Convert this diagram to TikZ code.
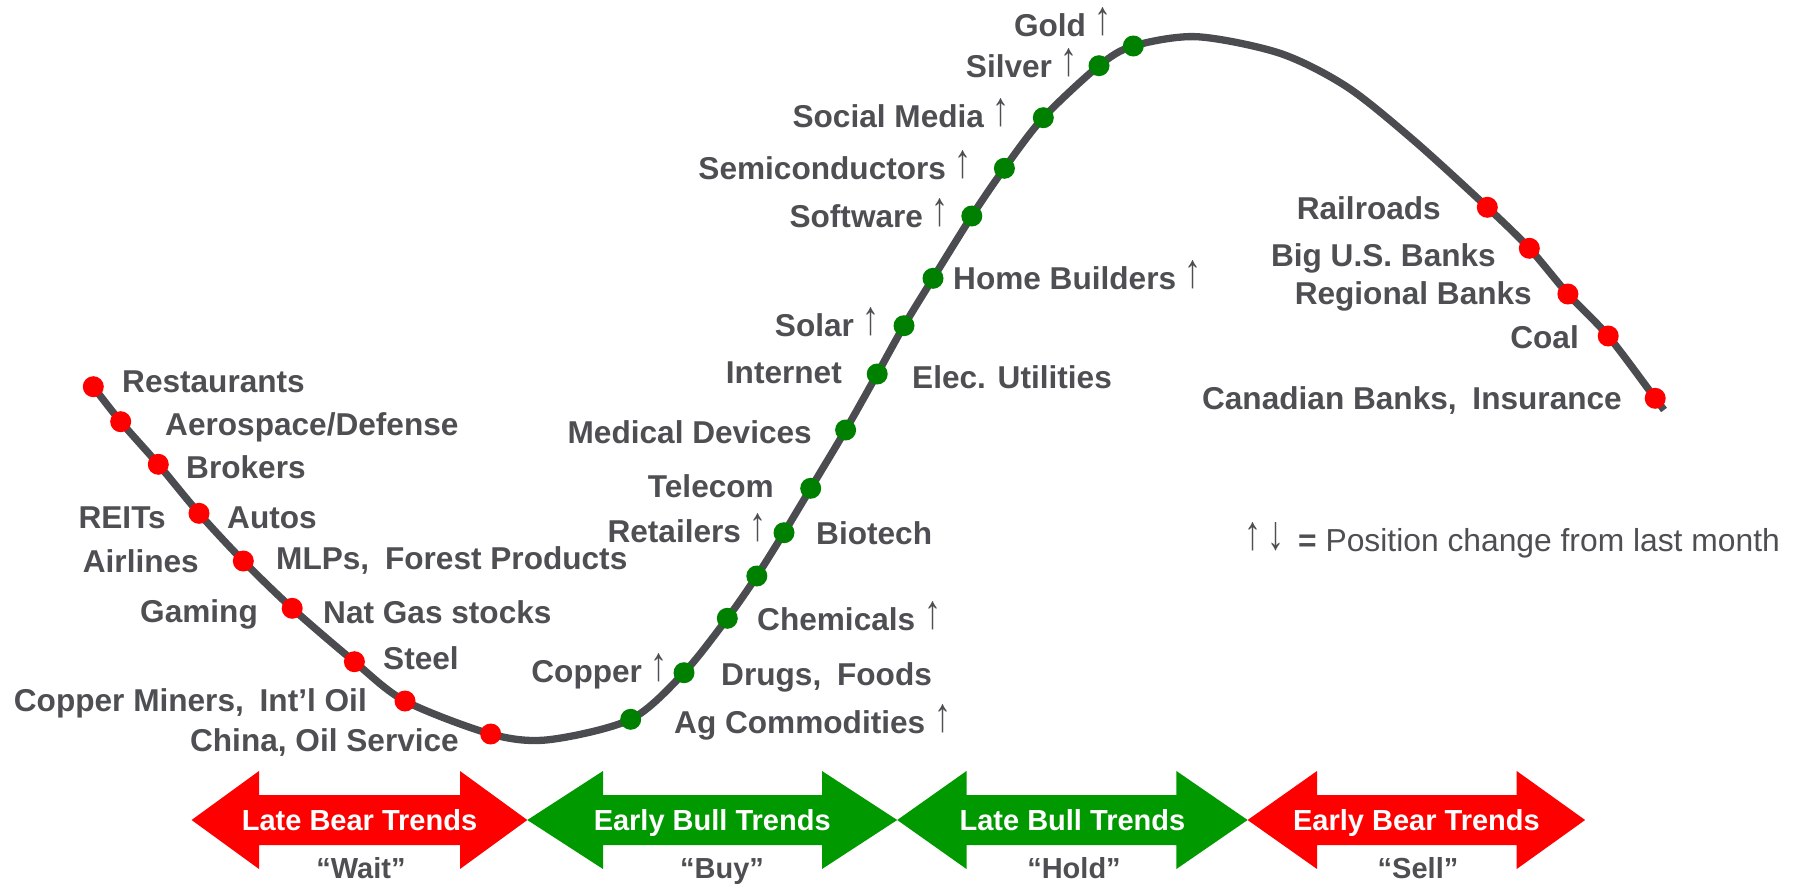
\documentclass[tikz,border=0pt]{standalone}
\usepackage{fontspec}
\usepackage{graphicx}
\setmainfont{Liberation Sans}
\definecolor{txtgray}{RGB}{77,79,83}
\definecolor{curvegray}{RGB}{74,76,80}
\definecolor{dotgreen}{RGB}{0,128,0}
\definecolor{arrgreen}{RGB}{0,153,0}
\definecolor{arrred}{RGB}{255,0,0}
\newcommand\upar{\raisebox{1.5pt}{\resizebox{17pt}{27pt}{\mdseries ↑}}}
\newcommand\downar{\raisebox{1.5pt}{\resizebox{17pt}{27pt}{\mdseries ↓}}}
\newcommand\bandarrow[5]{\fill[#5] (#1,820) -- (#2,771) -- (#2,795) -- (#3,795) -- (#3,771) -- (#4,820) -- (#3,869) -- (#3,845) -- (#2,845) -- (#2,869) -- cycle;}
\tikzset{
  lbl/.style={font=\fontsize{31.6}{31.6}\selectfont\bfseries, text=txtgray, inner sep=0pt, text height=22.5pt, text depth=0pt},
  lgd/.style={font=\fontsize{31.8}{31.8}\selectfont, text=txtgray, inner sep=0pt, text height=22.5pt, text depth=0pt},
  rdot/.style={circle, fill=red, inner sep=0pt, minimum size=21pt},
  gdot/.style={circle, fill=dotgreen, inner sep=0pt, minimum size=21pt},
  curve/.style={draw=curvegray, line width=7.3pt},
  atext/.style={font=\fontsize{29}{29}\selectfont\bfseries, text=white, inner sep=0pt, text height=21pt, text depth=0pt},
  qtext/.style={font=\fontsize{29}{29}\selectfont\bfseries, text=txtgray, inner sep=0pt, text height=21pt, text depth=0pt},
}
\begin{document}
\begin{tikzpicture}[x=1pt,y=-1pt]
\useasboundingbox (0,0) rectangle (1802,886);
% curve
\draw[curve] plot[smooth, tension=0.5] coordinates {
 (93.3,386.7) (120.7,421.7) (158.3,464.3) (199,513.3) (243.3,561) (292.2,608.3)
 (354.4,661.7) (405,701) (490.7,734) (548,739.8) (630.7,719.3) (684,672.7)
 (727.3,618.3) (756.8,576) (784,532.7) (810.7,488.3) (845.6,430) (877.2,374)
 (904,325.7) (933,278.3) (971.8,216) (1004.4,168.3) (1043.3,117.7) (1099,65.7)
 (1133.3,46) (1196.7,36.7) (1280,53.3) (1346.7,86.7) (1413.3,140) (1487.3,207.3)
 (1529.3,248.3) (1567.9,294) (1608.2,336) (1655.2,398.3) (1664,410)};
% red dots (left)
\node[rdot] (d1) at (93.3,386.7) {};
\node[rdot] (d2) at (120.7,421.7) {};
\node[rdot] (d3) at (158.3,464.3) {};
\node[rdot] (d4) at (199,513.3) {};
\node[rdot] (d5) at (243.3,561) {};
\node[rdot] (d6) at (292.2,608.3) {};
\node[rdot] (d7) at (354.4,661.7) {};
\node[rdot] (d8) at (405,701) {};
\node[rdot] (d9) at (490.7,734) {};
% green dots
\node[gdot] (g1) at (630.7,719.3) {};
\node[gdot] (g2) at (684,672.7) {};
\node[gdot] (g3) at (727.3,618.3) {};
\node[gdot] (g4) at (756.8,576) {};
\node[gdot] (g5) at (784,532.7) {};
\node[gdot] (g6) at (810.7,488.3) {};
\node[gdot] (g7) at (845.6,430) {};
\node[gdot] (g8) at (877.2,374) {};
\node[gdot] (g9) at (904,325.7) {};
\node[gdot] (g10) at (933,278.3) {};
\node[gdot] (g11) at (971.8,216) {};
\node[gdot] (g12) at (1004.4,168.3) {};
\node[gdot] (g13) at (1043.3,117.7) {};
\node[gdot] (g14) at (1099,65.7) {};
\node[gdot] (g15) at (1133.3,46) {};
% red dots (right)
\node[rdot] (e1) at (1487.3,207.3) {};
\node[rdot] (e2) at (1529.3,248.3) {};
\node[rdot] (e3) at (1567.9,294) {};
\node[rdot] (e4) at (1608.2,336) {};
\node[rdot] (e5) at (1655.2,398.3) {};
% left labels
\node[lbl, anchor=west] (l1) at (122,381) {Restaurants};
\node[lbl, anchor=west] (l2) at (165,424) {Aerospace/Defense};
\node[lbl, anchor=west] (l3) at (186,467) {Brokers};
\node[lbl, anchor=east] (l4a) at (166,517) {REITs};
\node[lbl, anchor=west] (l4b) at (227,517) {Autos};
\node[lbl, anchor=east] (l5a) at (199,561) {Airlines};
\node[lbl, anchor=west] (l5b) at (276,558) {MLPs,\hspace{0.5em}Forest Products};
\node[lbl, anchor=east] (l6a) at (258,611) {Gaming};
\node[lbl, anchor=west] (l6b) at (323,612) {Nat Gas stocks};
\node[lbl, anchor=west] (l7) at (383,658) {Steel};
\node[lbl, anchor=east] (l8) at (367,700) {Copper Miners,\hspace{0.5em}Int’l Oil};
\node[lbl, anchor=east] (l9) at (459,740) {China, Oil Service};
% middle labels
\node[lbl, anchor=west] (m1) at (674,722) {Ag Commodities \upar};
\node[lbl, anchor=east] (m2a) at (668,671) {Copper \upar};
\node[lbl, anchor=west] (m2b) at (721,674) {Drugs,\hspace{0.5em}Foods};
\node[lbl, anchor=west] (m3) at (757,619) {Chemicals \upar};
\node[lbl, anchor=east] (m5a) at (767,531) {Retailers \upar};
\node[lbl, anchor=west] (m5b) at (816,533) {Biotech};
\node[lbl, anchor=east] (m6) at (774,486) {Telecom};
\node[lbl, anchor=east] (m7) at (812,432) {Medical Devices};
\node[lbl, anchor=east] (m8a) at (842,372) {Internet};
\node[lbl, anchor=west] (m8b) at (912,377) {Elec. Utilities};
\node[lbl, anchor=east] (m9) at (880,325) {Solar \upar};
\node[lbl, anchor=west] (m10) at (953,278) {Home Builders \upar};
\node[lbl, anchor=east] (m11) at (949,216) {Software \upar};
\node[lbl, anchor=east] (m12) at (972,168) {Semiconductors \upar};
\node[lbl, anchor=east] (m13) at (1010,116) {Social Media \upar};
\node[lbl, anchor=east] (m14) at (1078,66) {Silver \upar};
\node[lbl, anchor=east] (m15) at (1112,25) {Gold \upar};
% right labels
\node[lbl, anchor=east] (r1) at (1441,208) {Railroads};
\node[lbl, anchor=east] (r2) at (1496,255) {Big U.S. Banks};
\node[lbl, anchor=east] (r3) at (1532,293) {Regional Banks};
\node[lbl, anchor=east] (r4) at (1579,337) {Coal};
\node[lbl, anchor=east] (r5) at (1622,398) {Canadian Banks,\hspace{0.5em}Insurance};
% legend
\node[lgd, anchor=west] (leg) at (1244,540) {\upar\hspace{0.2em}\downar\hspace{0.15em} {\bfseries =} Position change from last month};
% bottom arrows
\bandarrow{191.6}{259}{460}{527.3}{arrred}
\bandarrow{527.3}{603}{822}{897.2}{arrgreen}
\bandarrow{897.2}{966.5}{1176.4}{1247.6}{arrgreen}
\bandarrow{1247.6}{1317}{1516.7}{1585.1}{arrred}
\node[atext] (a1) at (359.5,820) {Late Bear Trends};
\node[atext] (a2) at (712.2,820) {Early Bull Trends};
\node[atext] (a3) at (1072.4,820) {Late Bull Trends};
\node[atext] (a4) at (1416.4,820) {Early Bear Trends};
\node[qtext] (q1) at (361,868) {“Wait”};
\node[qtext] (q2) at (722,868) {“Buy”};
\node[qtext] (q3) at (1074,868) {“Hold”};
\node[qtext] (q4) at (1418,868) {“Sell”};
\end{tikzpicture}
\end{document}
